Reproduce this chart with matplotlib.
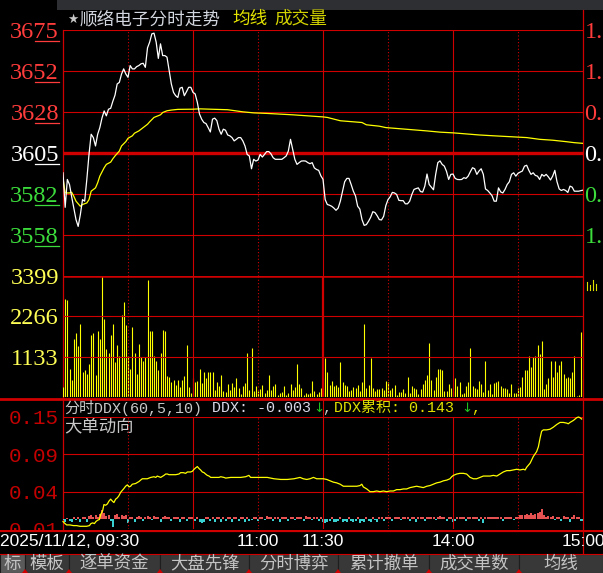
import matplotlib
matplotlib.use("Agg")
import matplotlib.pyplot as plt
from matplotlib.patches import Rectangle, Polygon
from matplotlib import font_manager as fm
import numpy as np

plt.rcParams['font.family'] = ['Noto Sans CJK SC', 'DejaVu Sans']

_names = {f.name for f in fm.fontManager.ttflist}
NARROW = 'Liberation Sans Narrow' if 'Liberation Sans Narrow' in _names else 'Liberation Sans'
SERIF = ['Liberation Serif', 'DejaVu Serif']
MONO = ['Liberation Mono', 'Noto Sans CJK SC', 'DejaVu Sans']

W, H = 603, 573
RED = '#d00000'
YEL = '#ffff00'

# ---- data: one value per minute 09:30 .. 15:00 ----
price = [
    3593.7, 3574.0, 3589.9, 3587.0, 3580.0, 3573.6, 3567.0, 3563.1, 3569.8, 3578.4,
    3577.5, 3590.0, 3604.2, 3615.7, 3613.8, 3609.0, 3615.7, 3619.5, 3625.0, 3629.0,
    3626.2, 3630.0, 3630.5, 3634.5, 3638.0, 3644.4, 3645.3, 3650.0, 3653.0, 3650.1,
    3648.2, 3654.9, 3653.0, 3653.0, 3654.3, 3654.9, 3655.9, 3656.2, 3653.9, 3665.0,
    3668.3, 3673.0, 3673.4, 3668.3, 3659.0, 3667.3, 3660.6, 3660.6, 3659.7, 3652.0,
    3644.4, 3639.6, 3637.7, 3636.7, 3642.0, 3642.5, 3637.7, 3640.0, 3642.5, 3642.5,
    3639.6, 3638.7, 3633.9, 3627.2, 3624.3, 3622.4, 3621.8, 3619.5, 3617.0, 3624.3,
    3624.9, 3623.5, 3618.6, 3615.7, 3618.6, 3618.0, 3615.3, 3614.8, 3613.8, 3611.9,
    3612.8, 3613.8, 3613.8, 3611.9, 3609.0, 3604.2, 3603.3, 3596.0, 3601.4, 3600.4,
    3601.0, 3604.2, 3602.7, 3604.2, 3605.8, 3605.8, 3604.5, 3602.3, 3601.4, 3601.4,
    3601.4, 3601.4, 3602.3, 3603.3, 3606.1, 3612.8, 3607.0, 3601.4, 3598.5, 3599.5,
    3600.4, 3600.5, 3600.4, 3599.5, 3598.9, 3599.5, 3596.5, 3595.6, 3595.1, 3592.0,
    3590.0, 3578.4, 3575.6, 3575.2, 3574.6, 3573.6, 3572.3, 3573.6, 3577.5, 3583.0,
    3588.6, 3590.5, 3590.5, 3587.0, 3583.2, 3580.5, 3574.6, 3573.0, 3567.0, 3563.7,
    3564.1, 3566.0, 3568.3, 3571.5, 3571.0, 3569.2, 3567.0, 3566.8, 3568.9, 3575.0,
    3578.4, 3580.0, 3582.5, 3582.2, 3581.3, 3578.0, 3577.8, 3577.8, 3576.0, 3576.0,
    3577.5, 3581.3, 3584.2, 3584.7, 3585.1, 3583.0, 3582.7, 3586.1, 3593.0, 3587.0,
    3585.5, 3584.0, 3592.8, 3599.5, 3600.5, 3598.5, 3597.5, 3594.5, 3589.9, 3592.8,
    3593.0, 3590.5, 3589.9, 3589.8, 3589.9, 3590.9, 3590.5, 3591.8, 3594.3, 3596.6,
    3596.0, 3592.8, 3594.7, 3596.0, 3592.8, 3584.5, 3583.6, 3582.2, 3580.7, 3577.5,
    3577.5, 3585.1, 3582.8, 3582.2, 3584.2, 3587.0, 3588.6, 3592.8, 3593.7, 3591.8,
    3593.4, 3594.1, 3594.7, 3597.5, 3598.0, 3595.1, 3592.8, 3593.7, 3592.2, 3591.8,
    3589.9, 3592.8, 3591.8, 3592.8, 3591.4, 3589.6, 3591.8, 3595.1, 3588.6, 3584.5,
    3583.6, 3584.2, 3583.6, 3582.5, 3586.1, 3585.5, 3583.2, 3583.2, 3583.2, 3583.5,
    3583.8]

avg_minute = [0, 1, 3, 4, 5, 6, 8, 9, 11, 12, 13, 15, 16, 17, 19, 20, 22, 23, 24, 26,
              27, 29, 30, 32, 33, 35, 37, 39, 40, 42, 45, 46, 48, 50, 53, 60, 63, 68, 76, 83,
              88, 94, 100, 106, 113, 120, 122, 128, 134, 138, 140, 146, 149, 156, 162, 168,
              174, 180, 186, 192, 199, 208, 214, 220, 226, 232, 236, 240]
avg_price = [3590.5, 3582.2, 3582.2, 3582.6, 3580.3, 3577.5, 3574.6, 3575.6, 3576.5, 3578.4,
             3583.2, 3585.1, 3588.0, 3591.8, 3596.6, 3598.5, 3599.8, 3601.7, 3603.3, 3606.1,
             3609.0, 3611.5, 3613.4, 3614.8, 3616.3, 3617.6, 3619.5, 3621.4, 3622.8, 3625.3,
             3626.8, 3628.1, 3629.1, 3629.5, 3629.9, 3630.0, 3630.2, 3630.0, 3629.7, 3628.5,
             3627.9, 3627.6, 3627.2, 3626.8, 3626.2, 3625.6, 3625.3, 3623.4, 3622.8, 3622.4,
             3621.1, 3620.3, 3619.5, 3618.8, 3618.2, 3617.6, 3616.9, 3616.5, 3615.9, 3615.3,
             3614.8, 3614.2, 3613.8, 3612.8, 3612.3, 3611.5, 3610.9, 3610.5]

volume = [
    290, 2750, 2720, 800, 490, 1620, 1790, 1420, 2040, 690,
    745, 650, 940, 1730, 1790, 630, 1845, 1620, 3399, 2185,
    1340, 1250, 1730, 2040, 970, 1450, 1140, 2300, 2665, 2015,
    1140, 800, 1960, 1250, 660, 1480, 1110, 1000, 1110, 3285,
    1845, 1845, 1140, 1025, 770, 1250, 1875, 1845, 600, 575,
    435, 490, 350, 490, 290, 490, 600, 1450, 290, 120,
    545, 435, 460, 800, 405, 690, 520, 715, 715, 715,
    205, 435, 320, 630, 180, 150, 375, 205, 405, 290,
    520, 265, 95, 320, 405, 1250, 205, 1365, 180, 320,
    180, 235, 350, 120, 205, 630, 205, 320, 375, 65,
    120, 150, 320, 65, 120, 375, 205, 290, 915, 375,
    265, 65, 120, 95, 120, 460, 180, 95, 150, 265,
    545, 1085, 715, 350, 460, 320, 350, 290, 970, 435,
    350, 320, 180, 205, 290, 265, 350, 180, 435, 2040,
    265, 350, 1085, 265, 180, 235, 235, 265, 205, 460,
    435, 205, 265, 350, 65, 150, 150, 235, 120, 575,
    120, 320, 265, 235, 95, 235, 375, 490, 630, 1505,
    490, 205, 575, 800, 800, 770, 180, 180, 375, 265,
    180, 520, 320, 435, 95, 120, 320, 435, 1365, 320,
    265, 235, 460, 375, 150, 1025, 205, 375, 95, 405,
    435, 460, 320, 265, 265, 235, 120, 375, 120, 120,
    265, 290, 575, 745, 745, 1140, 830, 1110, 1140, 1450,
    1195, 1565, 235, 375, 545, 1000, 575, 1025, 715, 885,
    1000, 660, 545, 575, 520, 715, 1140, 40, 60, 1815,
    500]

ddx_minute = [0, 0.9, 1.7, 3.2, 4.8, 6.3, 7.8, 9.4, 10.9, 12.2,
              12.9, 13.7, 14.5, 15.2, 16.0, 16.8, 17.5, 18.3, 18.9, 19.7,
              20.5, 21.2, 22.0, 22.8, 23.5, 24.3, 25.1, 25.8, 26.6, 27.4,
              28.2, 28.9, 29.7, 30.5, 31.2, 32.0, 33.5, 35.1, 35.8, 36.6,
              38.9, 39.7, 40.5, 42.0, 42.8, 43.5, 44.3, 45.1, 46.6, 47.4,
              48.2, 48.9, 52.0, 53.5, 54.3, 55.5, 56.6, 57.4, 58.9, 59.7,
              60.5, 61.2, 62.0, 62.8, 63.5, 64.3, 65.1, 65.8, 66.6, 67.4,
              68.2, 68.9, 72.0, 72.8, 74.3, 75.1, 77.4, 82.0, 84.3, 85.1,
              85.8, 86.6, 88.2, 94.3, 97.4, 100.5, 103.5, 106.6,
              109.4, 110.9, 112.5, 114.0, 115.6, 117.1, 118.6, 120.2, 121.7, 123.2,
              124.8, 126.3, 127.9, 129.4, 131.0, 132.5, 134.0, 135.6, 137.1, 137.9,
              138.6, 140.2, 141.7, 143.2, 144.8, 146.3, 147.9, 149.4, 150.9, 152.5,
              154.0, 155.6, 157.1, 158.6, 160.2, 161.7, 163.2, 164.8, 166.3, 167.9,
              169.4, 170.9, 172.5, 174.0, 175.6, 177.1, 178.6, 179.4, 180.2, 181.7,
              183.2, 184.8, 186.3, 187.9, 189.4, 190.9, 192.5, 194.0, 195.6, 197.1,
              198.6, 200.2, 201.7, 203.2, 204.8, 206.3, 207.9, 209.4, 210.9, 212.5,
              213.3, 214.0, 215.6, 217.1, 218.6, 219.4, 220.2, 220.9, 221.7, 223.2,
              224.8, 226.3, 227.9, 229.4, 230.9, 232.5, 233.2, 234.0, 235.6, 237.1,
              237.9, 238.6, 239.4]
ddx_cum = [-0.004, -0.007, -0.009, -0.009, -0.010, -0.010, -0.011, -0.011, -0.011, -0.010,
           -0.007, -0.006, -0.007, -0.004, -0.002, -0.001, 0.007, 0.012, 0.021, 0.020,
           0.022, 0.026, 0.029, 0.026, 0.024, 0.029, 0.031, 0.034, 0.039, 0.042,
           0.045, 0.048, 0.050, 0.047, 0.048, 0.051, 0.052, 0.055, 0.057, 0.059,
           0.059, 0.060, 0.061, 0.062, 0.061, 0.063, 0.062, 0.061, 0.064, 0.066,
           0.066, 0.065, 0.065, 0.066, 0.068, 0.068, 0.067, 0.069, 0.069, 0.070,
           0.073, 0.075, 0.077, 0.074, 0.072, 0.069, 0.068, 0.066, 0.064, 0.063,
           0.061, 0.061, 0.061, 0.062, 0.061, 0.060, 0.061, 0.061, 0.062, 0.063,
           0.064, 0.061, 0.061, 0.061, 0.059, 0.058, 0.058, 0.059,
           0.061, 0.059, 0.058, 0.059, 0.061, 0.059, 0.059, 0.059, 0.058, 0.056,
           0.054, 0.053, 0.051, 0.048, 0.048, 0.048, 0.048, 0.048, 0.049, 0.051,
           0.047, 0.044, 0.040, 0.040, 0.041, 0.040, 0.041, 0.040, 0.041, 0.041,
           0.043, 0.043, 0.044, 0.044, 0.046, 0.047, 0.048, 0.047, 0.046, 0.048,
           0.049, 0.051, 0.053, 0.054, 0.056, 0.057, 0.059, 0.062, 0.064, 0.066,
           0.067, 0.067, 0.066, 0.061, 0.059, 0.059, 0.061, 0.063, 0.063, 0.063,
           0.064, 0.063, 0.066, 0.069, 0.071, 0.071, 0.072, 0.073, 0.072, 0.073,
           0.072, 0.076, 0.082, 0.092, 0.099, 0.106, 0.119, 0.129, 0.131, 0.131,
           0.132, 0.135, 0.139, 0.142, 0.142, 0.141, 0.140, 0.142, 0.145, 0.149,
           0.150, 0.149, 0.147]

# per-minute DDX bars, in thousandths
ddx_bar = [
    -2, -4, 1, -3, -5, 2, -2, 3, -4, 2,
    3, -5, 4, 6, 3, 5, 2, 7, 13, 8,
    4, 6, -3, -12, 5, 7, 3, 6, 4, 5,
    -6, 3, 2, -4, 3, 4, 2, -3, 3, 4,
    3, -2, 4, 3, 2, -5, 3, 4, 3, 2,
    -3, 3, 2, 3, -4, 2, 3, -3, 2, 3,
    2, -3, 3, -5, -6, -4, 2, 3, -3, 2,
    -4, 3, 2, -5, 3, -3, 2, 3, -4, 2,
    3, -3, 2, 3, -4, 2, -3, -2, 3, 2,
    -3, 2, 3, -2, 4, 3, 2, -3, 2, 3,
    -4, 2, 3, 2, -3, 3, 2, -2, 3, 3,
    2, -3, 4, 3, 2, -2, 3, 2, -3, 2,
    -4, -6, -5, -3, 2, -5, -4, -3, 2, -5,
    -3, -4, 2, -3, -5, -3, 2, -6, -3, -4,
    2, -3, -5, 3, -2, -4, 2, 3, -3, 2,
    3, 2, -3, 2, 3, 2, -2, 3, 2, 3,
    -3, 2, 3, -4, 2, 3, 2, -3, 2, 3,
    3, 2, -2, 3, 4, 2, 3, -3, 2, 3,
    -5, -3, 2, 3, 2, 3, -3, 2, 3, 2,
    3, 2, -3, 2, -6, 3, 2, 3, 2, 3,
    2, 3, 2, -3, 2, 3, 2, 3, -2, 3,
    2, 5, 6, 5, 7, 6, 8, 5, 7, 9,
    10, 14, 6, 3, 4, 3, 4, -2, 3, 2,
    -3, 4, 3, 2, -4, 3, 5, 2, 3, -3,
    -3]

price_base = 3605.0
price_step = 23.4
price_labels = ['3558', '3582', '3605', '3628', '3652', '3675']
price_colors = ['#3cdc3c', '#3cdc3c', '#ffffff', '#ff3c3c', '#ff3c3c', '#ff3c3c']
pct_labels = ['1.', '0.', '0.', '0.', '1.', '1.']
vol_ticks = [1133, 2266, 3399]
ddx_ticks = [0.15, 0.095, 0.04, -0.015]
ddx_labels = ['0.15', '0.09', '0.04', '0.01']
time_ticks = [90, 120, 180, 240]
time_labels = ['11:00', '11:30', '14:00', '15:00']
tabs = ['标', '模板', '逐单资金', '大盘先锋', '分时博弈', '累计撤单', '成交单数', '均线']

minutes = np.arange(len(price))

# ---- layout (pixels) ----
X0, X1 = 63, 583
fig = plt.figure(figsize=(W / 100, H / 100), dpi=100, facecolor='black')


def rect(x0, y0, x1, y1):
    return [x0 / W, 1 - y1 / H, (x1 - x0) / W, (y1 - y0) / H]


bg = fig.add_axes([0, 0, 1, 1], zorder=0)
bg.set_xlim(0, W)
bg.set_ylim(H, 0)
bg.axis('off')


def panel(y0, y1, z=1):
    ax = fig.add_axes(rect(X0, y0, X1, y1), zorder=z)
    ax.set_facecolor('none')
    for s in ax.spines.values():
        s.set_visible(False)
    ax.set_xlim(0, 240)
    ax.set_xticks([])
    ax.tick_params(axis='y', length=0)
    return ax


def vgrid(ax, mid_lw=0.8):
    for m in range(30, 240, 30):
        if m % 60 == 30:
            ax.axvline(m, color=RED, lw=0.8, ls=(0, (1, 2)), zorder=3)
        else:
            ax.axvline(m, color=RED, lw=mid_lw if m == 120 else 0.8, zorder=3)


# top strip + title
bg.add_patch(Rectangle((57, 0), W - 57, 10, color='#2d2f33', lw=0))
bg.text(67, 19, '★', color='#c8c8c8', fontsize=9, va='center', family=['DejaVu Sans'])
bg.text(80, 19, '顺络电子分时走势', color='#d2d6de', fontsize=12.7, va='center')
bg.text(232, 19, '均线', color='#e4e400', fontsize=12.7, va='center')
bg.text(274, 19, '成交量', color='#d2d200', fontsize=12.7, va='center')

# ---- price panel ----
ax_p = panel(30, 276)
price_ticks = price_base + price_step * np.arange(-2, 4)
ax_p.set_ylim(price_base - 3 * price_step, price_base + 3 * price_step)
for t in price_ticks:
    ax_p.axhline(t, color=RED, lw=2.4 if t == price_base else 0.8, zorder=3)
vgrid(ax_p)
ax_p.plot(avg_minute, avg_price, color=YEL, lw=0.9, zorder=4)
ax_p.plot(minutes, price, color='white', lw=0.9, zorder=5)
ax_p.set_yticks(price_ticks, price_labels)
ax_p.tick_params(axis='y', pad=3)
for lbl, c in zip(ax_p.get_yticklabels(), price_colors):
    lbl.set_color(c)
    lbl.set_fontfamily(SERIF)
    lbl.set_fontsize(17.5)

ax_r = ax_p.twinx()
ax_r.set_ylim(ax_p.get_ylim())
for s in ax_r.spines.values():
    s.set_visible(False)
ax_r.set_yticks(price_ticks, pct_labels)
ax_r.tick_params(axis='y', length=0, pad=1)
for lbl, c in zip(ax_r.get_yticklabels(), price_colors):
    lbl.set_color(c)
    lbl.set_fontfamily(SERIF)
    lbl.set_fontsize(17.5)

# underline last two digits of the price labels
for t, c in zip(price_ticks, price_colors):
    yp = H - ax_p.transData.transform((0, t))[1]
    bg.plot([35, 59], [yp + 11, yp + 11], color=c, lw=0.9)

# ---- volume panel ----
ax_v = panel(276, 397)
ax_v.set_ylim(0, vol_ticks[-1])
ax_v.vlines(minutes, 0, volume, color=YEL, lw=0.8, zorder=2)
for t in vol_ticks:
    ax_v.axhline(t, color=RED, lw=1.8 if t == vol_ticks[-1] else 0.8, zorder=3)
vgrid(ax_v, mid_lw=1.6)
ax_v.set_yticks(vol_ticks, [str(v) for v in vol_ticks])
ax_v.tick_params(axis='y', pad=3, labelcolor='#ffff55')
for lbl in ax_v.get_yticklabels():
    lbl.set_fontfamily(SERIF)
    lbl.set_fontsize(17.5)
# small volume icon at right
for i, hh in enumerate([8, 5, 10, 6]):
    bg.plot([587 + 3 * i] * 2, [290, 290 - hh], color='#e0e000', lw=0.8)

# ---- DDX panel ----
ax_d = panel(417, 529)
ax_d.set_ylim(ddx_ticks[-1], ddx_ticks[0])
for t in ddx_ticks[:-1]:
    ax_d.axhline(t, color=RED, lw=0.8, zorder=1)
vgrid(ax_d)
bars = np.array(ddx_bar) / 1000.0
ax_d.vlines(minutes, 0, bars, colors=np.where(bars > 0, '#ff5a5a', '#40e8e8'), lw=1.3, zorder=2)
ax_d.plot(ddx_minute, ddx_cum, color=YEL, lw=0.9, zorder=4, clip_on=False)
ax_d.set_yticks(ddx_ticks, ddx_labels)
ax_d.tick_params(axis='y', pad=3, labelcolor='#c40000')
for lbl in ax_d.get_yticklabels():
    lbl.set_fontfamily(MONO)
    lbl.set_fontsize(15)
x_mid = ax_d.transData.transform((120, 0))[0]
bg.plot([x_mid, x_mid], [399, 417], color=RED, lw=0.8)

bg.text(64, 408, '分时DDX(60,5,10)', color='#c8c8c8', fontsize=10.8, va='center', family=MONO)
bg.text(212, 408, 'DDX: -0.003', color='#d8d8e8', fontsize=10.8, va='center', family=MONO)
bg.text(313, 408, '↓', color='#20c020', fontsize=9.5, va='center', family=['DejaVu Sans'])
bg.text(322, 408, ',', color='#c8c8c8', fontsize=10.8, va='center', family=MONO)
bg.text(334, 408, 'DDX累积: 0.143', color='#e0e000', fontsize=10.8, va='center', family=MONO)
bg.text(461, 408, '↓', color='#20c020', fontsize=9.5, va='center', family=['DejaVu Sans'])
bg.text(471, 408, ',', color='#e0e000', fontsize=10.8, va='center', family=MONO)
bg.text(64, 426, '大单动向', color='#c8c8c8', fontsize=12.5, va='center')

# frame lines
bg.plot([X0, X0], [30, 530], color=RED, lw=0.9)
bg.plot([X1, X1], [10, 560], color=RED, lw=0.9)
bg.plot([0, W], [398.5, 398.5], color=RED, lw=2.0)

# ---- bottom: time labels + tab bar ----
ov = fig.add_axes(rect(0, 530, W, H), zorder=6)
ov.set_facecolor('black')
for s in ov.spines.values():
    s.set_visible(False)
ov.set_xticks([])
ov.set_yticks([])
ov.set_xlim(0, W)
ov.set_ylim(H, 530)
ov.plot([0, W], [531, 531], color=RED, lw=1.6)
ov.plot([X1, X1], [530, 553], color=RED, lw=0.9, zorder=3)
ov.text(0, 541, '2025/11/12, 09:30', color='white', fontsize=12.5, va='center',
        family=[NARROW, 'DejaVu Sans'])
for m, lab in zip(time_ticks, time_labels):
    xm = ax_d.transData.transform((m, 0))[0]
    ov.text(min(xm, W - 20), 541, lab, color='white', fontsize=12.5, va='center', ha='center',
            family=[NARROW, 'DejaVu Sans'])

edges = [0, 25, 69, 160, 249, 338, 429, 519, W]
ov.plot([0, W], [553.5, 553.5], color=RED, lw=0.8)
for i, name in enumerate(tabs):
    x0, x1 = edges[i], edges[i + 1]
    ov.add_patch(Rectangle((x0, 554), x1 - x0, H - 554,
                           facecolor='#5a5a5a' if i == 0 else '#383838',
                           edgecolor='#1e1e1e', lw=0.8))
    ov.text((x0 + x1) / 2, 563.5, name, color='#c4c4c4', fontsize=12.5,
            ha='center', va='center')
    if i > 0:
        ov.add_patch(Polygon([[x0 - 3, H], [x0 + 3, H], [x0, H - 4]], color=RED, lw=0))

fig.savefig('out.png', dpi=100, facecolor='black')
